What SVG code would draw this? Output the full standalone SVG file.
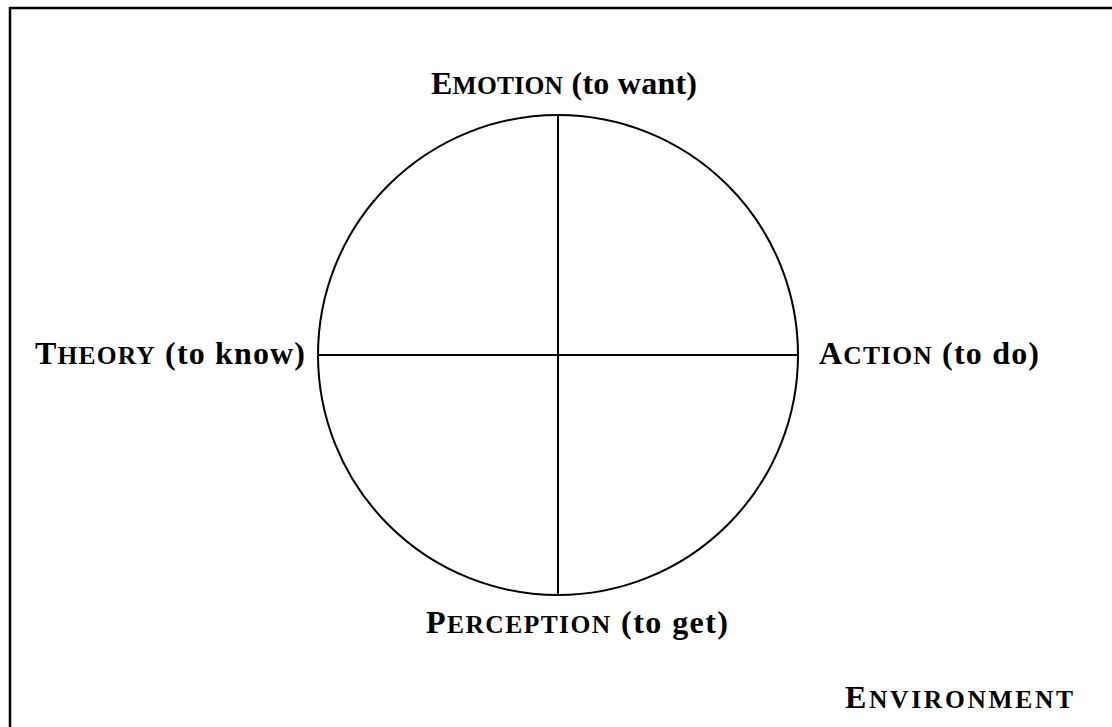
<svg xmlns="http://www.w3.org/2000/svg" width="1112" height="727" viewBox="0 0 1112 727">
<style>
.lbl{font-family:"Liberation Serif","Times New Roman",serif;font-weight:bold;font-size:32px;fill:#000}
.sc{font-size:25.5px}
.ln{stroke:#000;stroke-width:2;fill:none}
</style>
<rect width="1112" height="727" fill="#fff"/>
<g id="frame">
<path d="M10 727 V8 H1112" stroke="#000" stroke-width="2.5" fill="none"/>
</g>
<g id="connectors">
<circle class="ln" cx="558" cy="355" r="240"/>
<line class="ln" x1="558" y1="115" x2="558" y2="595"/>
<line class="ln" x1="318" y1="355" x2="798" y2="355"/>
</g>
<g id="emotion"><text class="lbl" x="431" y="94" textLength="266" lengthAdjust="spacing">E<tspan class="sc">MOTION</tspan> (to want)</text></g>
<g id="theory"><text class="lbl" x="35" y="364" textLength="270" lengthAdjust="spacing">T<tspan class="sc">HEORY</tspan> (to know)</text></g>
<g id="action"><text class="lbl" x="819" y="364" textLength="220" lengthAdjust="spacing">A<tspan class="sc">CTION</tspan> (to do)</text></g>
<g id="perception"><text class="lbl" x="426" y="633" textLength="302" lengthAdjust="spacing">P<tspan class="sc">ERCEPTION</tspan> (to get)</text></g>
<g id="environment"><text class="lbl" x="845" y="708" textLength="228" lengthAdjust="spacing">E<tspan class="sc">NVIRONMENT</tspan></text></g>
</svg>
